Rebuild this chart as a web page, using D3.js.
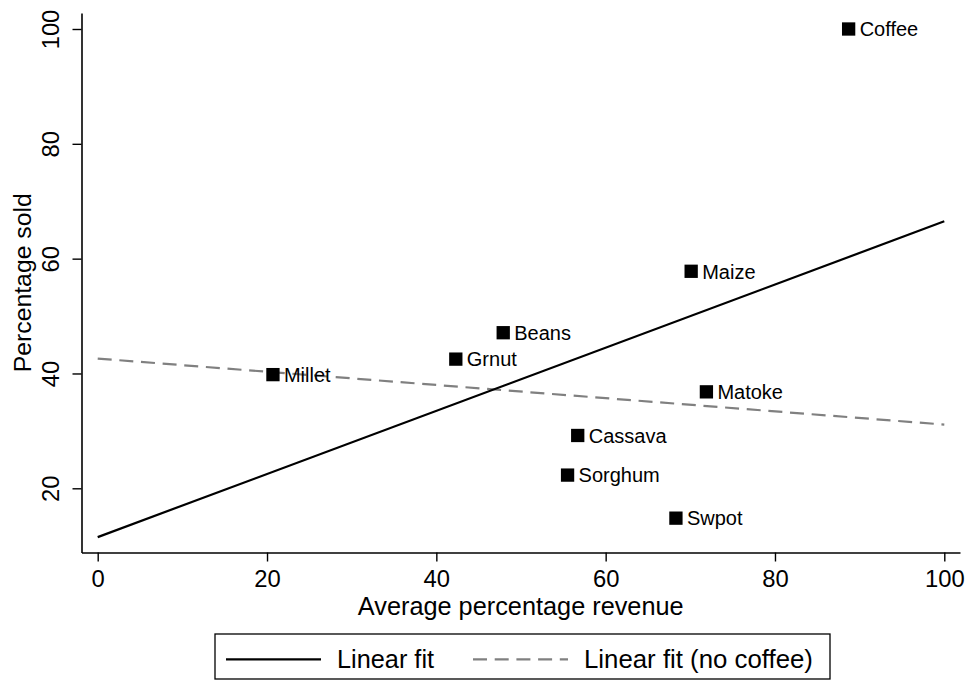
<!DOCTYPE html>
<html>
<head>
<meta charset="utf-8">
<script src="https://cdn.jsdelivr.net/npm/d3@7"></script>
<style>
  html, body { margin: 0; padding: 0; background: #fff; }
  svg { display: block; font-family: "Liberation Sans", Arial, Helvetica, sans-serif; }
</style>
</head>
<body>
<svg id="chart" width="967" height="682"></svg>
<script>
// ---- data ----
const crops   = ["Coffee", "Maize", "Beans", "Grnut", "Millet", "Matoke", "Cassava", "Sorghum", "Swpot"];
const revenue = [88.7, 70.1, 47.9, 42.3, 20.7, 71.9, 56.7, 55.5, 68.3];
const sold    = [100, 57.8, 47.1, 42.5, 39.8, 36.8, 29.2, 22.3, 14.8];
const fitX         = [0, 100];
const fitAll       = [11.5, 66.5];
const fitNoCoffee  = [42.6, 31.1];
const xTicks = [0, 20, 40, 60, 80, 100];
const yTicks = [20, 40, 60, 80, 100];
const legendLabels = ["Linear fit", "Linear fit (no coffee)"];

// ---- layout ----
const svg = d3.select("#chart");
const axisX0 = 81.5, axisX1 = 960, axisYtop = 13, axisYbot = 552.5;

const x = d3.scaleLinear().domain([0, 100]).range([97.7, 944.3]);
const y = d3.scaleLinear().domain([20, 100]).range([488.3, 29]);

// axes with domain extended to the plot region
const xAx = x.copy().domain([x.invert(axisX0), x.invert(axisX1)]).range([axisX0, axisX1]);
const yAx = y.copy().domain([y.invert(axisYbot), y.invert(axisYtop)]).range([axisYbot, axisYtop]);

const gx = svg.append("g").attr("transform", `translate(0,${axisYbot})`)
  .call(d3.axisBottom(xAx).tickValues(xTicks).tickSize(9).tickSizeOuter(0).tickFormat(d3.format("d")));
gx.selectAll("text").attr("y", 34.2).attr("dy", 0)
  .style("font-size", "23.8px").attr("fill", "#000");

const gy = svg.append("g").attr("transform", `translate(${axisX0},0)`)
  .call(d3.axisLeft(yAx).tickValues(yTicks).tickSize(9).tickSizeOuter(0).tickFormat(d3.format("d")));
gy.selectAll("text")
  .attr("transform", "rotate(-90)")
  .attr("x", 0).attr("y", -22.5).attr("dy", 0)
  .attr("text-anchor", "middle")
  .style("font-size", "23.8px").attr("fill", "#000");

[gx, gy].forEach(g => {
  g.select(".domain").attr("stroke", "#000").attr("stroke-width", 1.6);
  g.selectAll(".tick line").attr("stroke", "#000").attr("stroke-width", 1.4);
  g.attr("font-family", null).attr("font-size", null);
});

// axis titles
svg.append("text")
  .attr("x", (axisX0 + axisX1) / 2).attr("y", 615)
  .attr("text-anchor", "middle").style("font-size", "25.3px")
  .text("Average percentage revenue");
svg.append("text")
  .attr("transform", `translate(31,${(axisYtop + axisYbot) / 2}) rotate(-90)`)
  .attr("text-anchor", "middle").style("font-size", "24.8px")
  .text("Percentage sold");

// ---- fit lines ----
const line = d3.line().x(d => x(d[0])).y(d => y(d[1]));
svg.append("path")
  .datum(fitX.map((v, i) => [v, fitNoCoffee[i]]))
  .attr("d", line).attr("fill", "none")
  .attr("stroke", "#808080").attr("stroke-width", 2.2)
  .attr("stroke-dasharray", "14,7.7");
svg.append("path")
  .datum(fitX.map((v, i) => [v, fitAll[i]]))
  .attr("d", line).attr("fill", "none")
  .attr("stroke", "#000").attr("stroke-width", 2.2);

// ---- markers + labels ----
const pts = crops.map((c, i) => ({ name: c, x: revenue[i], y: sold[i] }));
const ms = 13.3;
svg.append("g").selectAll("rect").data(pts).join("rect")
  .attr("x", d => x(d.x) - ms / 2).attr("y", d => y(d.y) - ms / 2)
  .attr("width", ms).attr("height", ms).attr("fill", "#000");
svg.append("g").selectAll("text").data(pts).join("text")
  .attr("x", d => x(d.x) + 11).attr("y", d => y(d.y) + 7.3)
  .style("font-size", "20px").attr("fill", "#000")
  .text(d => d.name);

// ---- legend ----
const lg = svg.append("g");
lg.append("rect").attr("x", 215).attr("y", 634).attr("width", 615).attr("height", 45)
  .attr("fill", "#fff").attr("stroke", "#000").attr("stroke-width", 1.3);
lg.append("line").attr("x1", 226).attr("x2", 321).attr("y1", 659.3).attr("y2", 659.3)
  .attr("stroke", "#000").attr("stroke-width", 2.2);
lg.append("text").attr("x", 337).attr("y", 667.7).style("font-size", "25.3px").text(legendLabels[0]);
lg.append("line").attr("x1", 473).attr("x2", 568).attr("y1", 659.3).attr("y2", 659.3)
  .attr("stroke", "#808080").attr("stroke-width", 2.2).attr("stroke-dasharray", "14,7.7");
lg.append("text").attr("x", 584).attr("y", 667.7).style("font-size", "25.8px").text(legendLabels[1]);
</script>
</body>
</html>
